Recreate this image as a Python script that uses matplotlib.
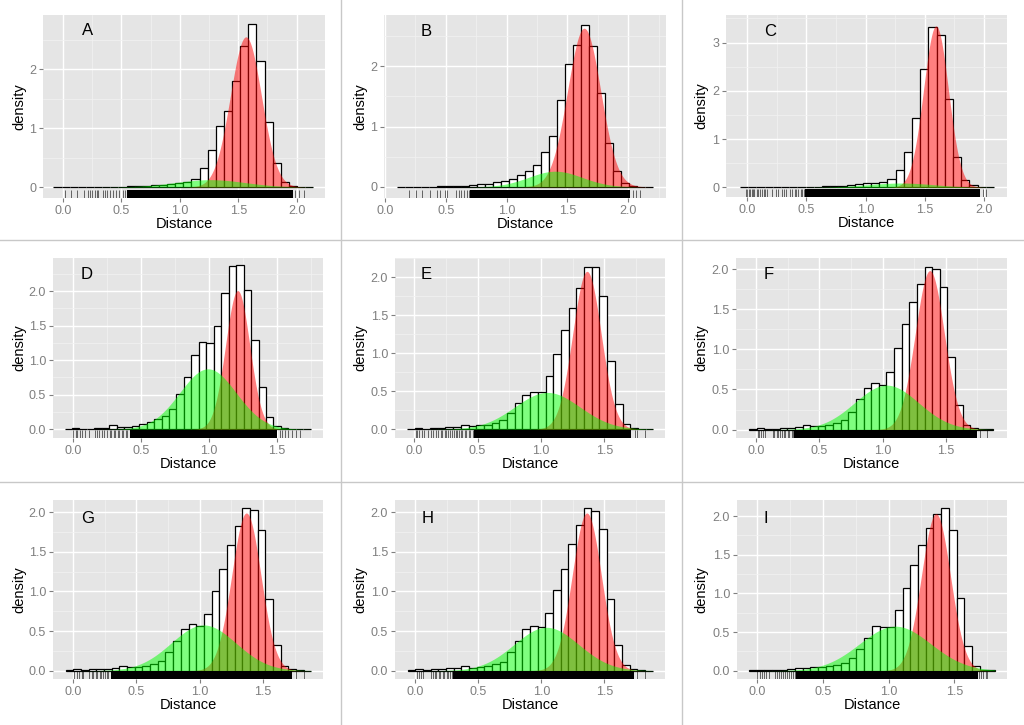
"""3x3 grid of distance histograms with two fitted density components and a rug."""

import matplotlib.pyplot as plt
import numpy as np
from matplotlib.lines import Line2D
from matplotlib.patches import Rectangle
from matplotlib.ticker import MultipleLocator

plt.rcParams["font.family"] = ["Liberation Sans", "DejaVu Sans"]

PANELS = ["A", "B", "C", "D", "E", "F", "G", "H", "I"]

# Histogram bins: first edge, bin width and bar heights (density)
bin_start = {"A": -0.0815, "B": 0.101, "C": -0.062, "D": -0.062, "E": -0.058,
             "F": -0.058, "G": -0.058, "H": -0.058, "I": -0.063}
bin_width = {"A": 0.0695, "B": 0.0656, "C": 0.0693, "D": 0.0549, "E": 0.0608,
             "F": 0.0605, "G": 0.0606, "H": 0.0606, "I": 0.0585}

heights_A = [0.001, 0.002, 0.002, 0.001, 0.003, 0.004, 0.003, 0.003, 0.005, 0.012,
             0.018, 0.025, 0.033, 0.040, 0.050, 0.065, 0.085, 0.135, 0.32, 0.63,
             1.04, 1.29, 1.80, 2.40, 2.76, 2.14, 1.10, 0.41, 0.085, 0.02, 0.005, 0.002]
heights_B = [0.001, 0.001, 0.002, 0.002, 0.004, 0.006, 0.008, 0.012, 0.02, 0.03,
             0.04, 0.055, 0.075, 0.10, 0.135, 0.19, 0.26, 0.37, 0.58, 0.85,
             1.44, 2.04, 2.36, 2.69, 2.34, 1.56, 0.73, 0.26, 0.065, 0.01, 0.004, 0.002]
heights_C = [0.006, 0.01, 0.006, 0.005, 0.005, 0.006, 0.008, 0.01, 0.012, 0.015,
             0.02, 0.025, 0.035, 0.045, 0.06, 0.08, 0.10, 0.12, 0.17, 0.35,
             0.74, 1.43, 2.45, 3.32, 3.16, 1.83, 0.62, 0.15, 0.04, 0.01, 0.003]
heights_D = [0.01, 0.012, 0.005, 0.01, 0.02, 0.025, 0.055, 0.035, 0.035, 0.04,
             0.08, 0.11, 0.15, 0.19, 0.30, 0.51, 0.75, 1.08, 1.26, 1.245,
             1.50, 1.98, 2.36, 2.38, 2.02, 1.29, 0.61, 0.18, 0.054, 0.02,
             0.008, 0.004, 0.002]
heights_E = [0.005, 0.01, 0.005, 0.012, 0.02, 0.025, 0.03, 0.05, 0.044, 0.053,
             0.06, 0.085, 0.12, 0.21, 0.34, 0.45, 0.49, 0.49, 0.70, 0.99,
             1.30, 1.60, 1.855, 2.14, 2.14, 1.75, 0.90, 0.33, 0.075, 0.02, 0.005, 0.002]
heights_F = [0.008, 0.015, 0.008, 0.012, 0.02, 0.025, 0.035, 0.06, 0.04, 0.045,
             0.06, 0.08, 0.12, 0.225, 0.375, 0.52, 0.58, 0.55, 0.72, 1.02,
             1.31, 1.59, 1.81, 2.03, 2.0, 1.78, 0.90, 0.31, 0.06, 0.02, 0.005, 0.002]
heights_G = [0.008, 0.015, 0.01, 0.015, 0.02, 0.025, 0.035, 0.06, 0.045, 0.05,
             0.063, 0.08, 0.12, 0.23, 0.38, 0.53, 0.59, 0.57, 0.72, 1.01,
             1.28, 1.59, 1.83, 2.05, 2.03, 1.78, 0.90, 0.32, 0.06, 0.02, 0.005, 0.002]
heights_H = [0.006, 0.015, 0.008, 0.015, 0.02, 0.03, 0.04, 0.06, 0.04, 0.046,
             0.06, 0.08, 0.115, 0.23, 0.38, 0.52, 0.57, 0.55, 0.73, 1.02,
             1.29, 1.595, 1.84, 2.05, 2.02, 1.785, 0.91, 0.32, 0.07, 0.02, 0.005, 0.002]
heights_I = [0.012, 0.01, 0.008, 0.01, 0.015, 0.02, 0.03, 0.039, 0.043, 0.052,
             0.065, 0.08, 0.095, 0.16, 0.28, 0.42, 0.58, 0.57, 0.57, 0.785,
             1.065, 1.365, 1.625, 1.84, 2.03, 2.10, 1.82, 0.94, 0.32, 0.06, 0.01, 0.003]
heights = {"A": heights_A, "B": heights_B, "C": heights_C, "D": heights_D,
           "E": heights_E, "F": heights_F, "G": heights_G, "H": heights_H,
           "I": heights_I}

# Fitted mixture components: (weight, mean, sd)
red_fit = {"A": (0.85, 1.566, 0.133), "B": (0.897, 1.637, 0.136),
           "C": (0.88, 1.596, 0.105), "D": (0.448, 1.212, 0.089),
           "E": (0.583, 1.363, 0.112), "F": (0.571, 1.375, 0.115),
           "G": (0.574, 1.368, 0.115), "H": (0.574, 1.36, 0.115),
           "I": (0.56, 1.36, 0.11)}
green_fit = {"A": (0.094, 1.26, 0.30), "B": (0.143, 1.40, 0.22),
             "C": (0.063, 1.30, 0.28), "D": (0.454, 0.993, 0.207),
             "E": (0.312, 1.05, 0.257), "F": (0.351, 1.032, 0.253),
             "G": (0.369, 1.03, 0.255), "H": (0.35, 1.04, 0.255),
             "I": (0.39, 1.05, 0.27)}

# Rug: solid block where marks merge, plus the separate marks around it
rug_dense = {"A": (0.55, 1.97), "B": (0.70, 2.01), "C": (0.49, 1.97),
             "D": (0.42, 1.50), "E": (0.47, 1.71), "F": (0.30, 1.75),
             "G": (0.30, 1.73), "H": (0.30, 1.73), "I": (0.30, 1.68)}
rug_A = [0.02, 0.07, 0.12, 0.18, 0.21, 0.23, 0.25, 0.27, 0.29, 0.30, 0.34, 0.36,
         0.38, 0.40, 0.43, 0.45, 0.48, 0.51, 0.53, 1.99, 2.02, 2.06]
rug_B = [0.197, 0.252, 0.307, 0.37, 0.43, 0.453, 0.494, 0.507, 0.581, 0.609,
         0.628, 0.65, 0.672, 0.69, 2.035, 2.06, 2.10]
rug_C = [-0.01, 0.0, 0.01, 0.02, 0.035, 0.05, 0.06, 0.08, 0.09, 0.11, 0.12, 0.14,
         0.15, 0.17, 0.21, 0.24, 0.26, 0.29, 0.31, 0.33, 0.36, 0.38, 0.40, 0.41,
         0.43, 0.45, 0.46, 0.48, 1.99, 2.02]
rug_D = [0.0, 0.02, 0.03, 0.05, 0.07, 0.09, 0.12, 0.16, 0.18, 0.19, 0.21, 0.23,
         0.25, 0.27, 0.28, 0.30, 0.31, 0.33, 0.34, 0.36, 0.37, 0.39, 0.40,
         1.52, 1.54, 1.56, 1.58, 1.61, 1.64, 1.67]
rug_E = [0.01, 0.02, 0.04, 0.06, 0.08, 0.11, 0.13, 0.15, 0.17, 0.19, 0.21, 0.22,
         0.24, 0.25, 0.27, 0.28, 0.30, 0.31, 0.33, 0.34, 0.35, 0.37, 0.38, 0.40,
         0.41, 0.43, 0.44, 0.46, 1.74, 1.76, 1.82]
rug_F = [0.01, 0.02, 0.04, 0.05, 0.07, 0.13, 0.14, 0.16, 0.17, 0.19, 0.20, 0.22,
         0.23, 0.25, 0.26, 0.28, 0.29, 1.77, 1.83]
rug_G = [0.01, 0.03, 0.05, 0.07, 0.08, 0.13, 0.15, 0.16, 0.18, 0.19, 0.21, 0.22,
         0.24, 0.25, 0.27, 0.28, 1.76, 1.82]
rug_H = [0.015, 0.03, 0.045, 0.06, 0.13, 0.14, 0.16, 0.17, 0.19, 0.20, 0.22,
         0.23, 0.25, 0.26, 0.28, 0.29, 1.76, 1.82]
rug_I = [0.0, 0.02, 0.04, 0.05, 0.07, 0.09, 0.14, 0.15, 0.17, 0.18, 0.20, 0.21,
         0.23, 0.24, 0.26, 0.27, 0.29, 1.69, 1.70, 1.72, 1.74, 1.75]
rug_ticks = {"A": rug_A, "B": rug_B, "C": rug_C, "D": rug_D, "E": rug_E,
             "F": rug_F, "G": rug_G, "H": rug_H, "I": rug_I}

# Layout (pixels in a 1024x725 canvas): plot area left, right, top, bottom
FIG_W, FIG_H = 1024, 725
boxes = {"A": (43, 325, 15, 198), "B": (384, 666, 15, 198), "C": (726, 1007, 15, 197),
         "D": (53, 323, 258, 438), "E": (395, 665, 258, 438), "F": (736, 1007, 258, 438),
         "G": (53, 323, 500, 679), "H": (395, 665, 500, 679), "I": (737, 1007, 500, 679)}
xlims = {"A": (-0.171, 2.243), "B": (-0.008, 2.31), "C": (-0.181, 2.197),
         "D": (-0.147, 1.84), "E": (-0.152, 1.979), "F": (-0.162, 1.987),
         "G": (-0.158, 1.973), "H": (-0.158, 1.979), "I": (-0.152, 1.90)}
ylims = {"A": (-0.186, 2.92), "B": (-0.185, 2.85), "C": (-0.20, 3.57),
         "D": (-0.127, 2.48), "E": (-0.115, 2.252), "F": (-0.105, 2.1375),
         "G": (-0.105, 2.155), "H": (-0.105, 2.155), "I": (-0.107, 2.208)}
letter_pos = {"A": (0.159, 0.913), "B": (0.148, 0.91), "C": (0.157, 0.91),
              "D": (0.126, 0.911), "E": (0.115, 0.911), "F": (0.12, 0.911),
              "G": (0.13, 0.894), "H": (0.119, 0.894), "I": (0.107, 0.897)}
cell_left = {"A": 0, "B": 341, "C": 682, "D": 0, "E": 341, "F": 682,
             "G": 0, "H": 341, "I": 682}

GREY_TEXT = "#7F7F7F"
RUG_HEIGHT = 0.046


def normal_curve(xs, fit):
    weight, mean, sd = fit
    return weight * np.exp(-0.5 * ((xs - mean) / sd) ** 2) / (sd * np.sqrt(2 * np.pi))


fig = plt.figure(figsize=(FIG_W / 100, FIG_H / 100), dpi=100)
fig.patch.set_facecolor("white")

for p in PANELS:
    left, right, top, bottom = boxes[p]
    ax = fig.add_axes([left / FIG_W, 1 - bottom / FIG_H,
                       (right - left) / FIG_W, (bottom - top) / FIG_H])
    ax.set_facecolor("#E5E5E5")
    ax.set_axisbelow(True)

    h = np.asarray(heights[p])
    edges = bin_start[p] + bin_width[p] * np.arange(len(h) + 1)
    ax.bar(edges[:-1], h, width=bin_width[p], align="edge", facecolor="white",
           edgecolor="black", linewidth=0.9, zorder=2)

    xs = np.linspace(edges[0], edges[-1], 500)
    ax.fill_between(xs, 0, normal_curve(xs, red_fit[p]), color="#FF0000",
                    alpha=0.5, linewidth=0, zorder=3)
    ax.fill_between(xs, 0, normal_curve(xs, green_fit[p]), color="#00FF00",
                    alpha=0.5, linewidth=0, zorder=4)

    # rug along the bottom edge
    trans = ax.get_xaxis_transform()
    d0, d1 = rug_dense[p]
    ax.add_patch(Rectangle((d0, 0), d1 - d0, RUG_HEIGHT, transform=trans,
                           facecolor="black", edgecolor="none", zorder=5))
    ax.vlines(rug_ticks[p], 0, RUG_HEIGHT, transform=trans, colors="black",
              linewidth=0.5, alpha=0.8, zorder=5)

    ax.set_xlim(*xlims[p])
    ax.set_ylim(*ylims[p])

    # ticks and grid in the ggplot2 grey theme
    if p in ("A", "B", "C"):
        ax.yaxis.set_major_locator(MultipleLocator(1))
        ax.yaxis.set_minor_locator(MultipleLocator(0.5))
        ax.yaxis.set_major_formatter(lambda v, pos: f"{v:.0f}")
    else:
        ax.yaxis.set_major_locator(MultipleLocator(0.5))
        ax.yaxis.set_minor_locator(MultipleLocator(0.25))
        ax.yaxis.set_major_formatter(lambda v, pos: f"{v:.1f}")
    ax.xaxis.set_major_locator(MultipleLocator(0.5))
    ax.xaxis.set_minor_locator(MultipleLocator(0.25))
    ax.xaxis.set_major_formatter(lambda v, pos: f"{v:.1f}")

    ax.grid(which="major", color="white", linewidth=1.0)
    ax.grid(which="minor", color="#F2F2F2", linewidth=0.5)
    for spine in ax.spines.values():
        spine.set_visible(False)
    ax.tick_params(which="major", length=3, width=0.8, color=GREY_TEXT,
                   labelcolor=GREY_TEXT, labelsize=9, pad=2)
    ax.tick_params(which="minor", length=0)

    ax.text(*letter_pos[p], p, transform=ax.transAxes, fontsize=12,
            ha="center", va="center", color="black", zorder=6)

    ax.set_xlabel("Distance", fontsize=10.5, va="center")
    ax.set_ylabel("density", fontsize=10.5, va="center")
    ax.xaxis.set_label_coords((left + right) / 2 / FIG_W, 1 - (bottom + 26) / FIG_H,
                              transform=fig.transFigure)
    ax.yaxis.set_label_coords((cell_left[p] + 19) / FIG_W, 1 - (top + bottom) / 2 / FIG_H,
                              transform=fig.transFigure)

# light grey separators between the nine sub-figures
for xpx in (341, 682):
    fig.add_artist(Line2D([xpx / FIG_W] * 2, [0, 1], color="#C8C8C8", linewidth=1))
for ypx in (240, 482):
    fig.add_artist(Line2D([0, 1], [1 - ypx / FIG_H] * 2, color="#C8C8C8", linewidth=1))

fig.savefig("out.png", dpi=100)
